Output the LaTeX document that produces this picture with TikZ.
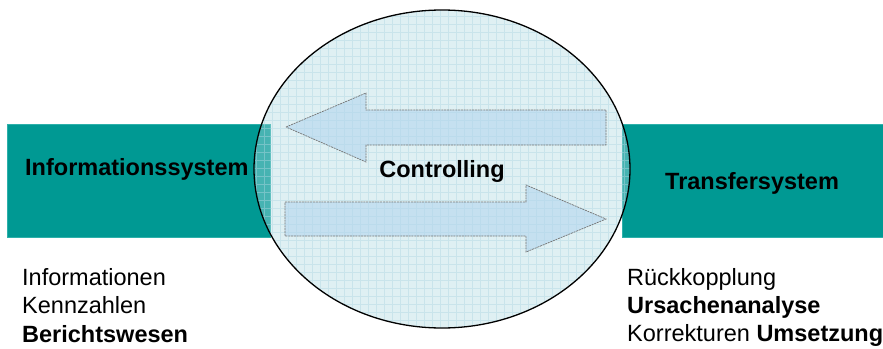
\documentclass[tikz,border=0pt]{standalone}
\usepackage{fontspec}
\setmainfont{Liberation Sans}
\definecolor{tealbox}{HTML}{009993}
\definecolor{tealedge}{HTML}{2DB0AA}
\definecolor{ellfill}{RGB}{175,218,225}
\definecolor{gridcol}{RGB}{175,215,225}
\definecolor{arrowfill}{RGB}{175,212,238}
\tikzset{
  sysbox/.style={fill=tealbox, draw=tealedge, line width=0.8pt},
  bigtxt/.style={font=\fontsize{23.5}{28.5}\selectfont, inner sep=0pt, text=black},
  flowarrow/.style={fill=arrowfill, fill opacity=0.55, draw=black!55, line width=0.7pt, dash pattern=on 2pt off 0.8pt},
}
\begin{document}
\begin{tikzpicture}[x=1pt,y=-1pt]
\useasboundingbox (0,0) rectangle (883,348);
% system boxes
\path[sysbox] (7,124) rectangle (270,237);
\path[sysbox] (622,124) rectangle (884,237);
% controlling ellipse
\fill[ellfill, fill opacity=0.4] (442,169) ellipse [x radius=188pt, y radius=159pt];
\begin{scope}
  \clip (442,169) ellipse [x radius=188pt, y radius=159pt];
  \draw[gridcol, line width=0.5pt, opacity=0.45, step=8pt] (250,5) grid (635,335);
\end{scope}
% arrows
\path[flowarrow] (286,127) -- (366,93) -- (366,110) -- (606,110) -- (606,145) -- (366,145) -- (366,162) -- cycle;
\path[flowarrow] (285,202) -- (526,202) -- (526,185) -- (606,219) -- (526,252) -- (526,236) -- (285,236) -- cycle;
\draw[black, line width=1.3pt] (442,169) ellipse [x radius=188pt, y radius=159pt];
% labels
\node[bigtxt, anchor=base west] (info) at (25,175) {\bfseries Informationssystem};
\node[bigtxt, anchor=base] (ctrl) at (442,177) {\bfseries Controlling};
\node[bigtxt, anchor=base west] (trans) at (665,189) {\bfseries Transfersystem};
\node[bigtxt, anchor=base west] (bl1) at (22,285) {Informationen};
\node[bigtxt, anchor=base west] (bl2) at (22,313.5) {Kennzahlen};
\node[bigtxt, anchor=base west] (bl3) at (22,342) {\bfseries Berichtswesen};
\node[bigtxt, anchor=base west] (br1) at (627,285) {Rückkopplung};
\node[bigtxt, anchor=base west] (br2) at (627,313) {\bfseries Ursachenanalyse};
\node[bigtxt, anchor=base west] (br3) at (627,341) {Korrekturen \textbf{Umsetzung}};
\end{tikzpicture}
\end{document}
